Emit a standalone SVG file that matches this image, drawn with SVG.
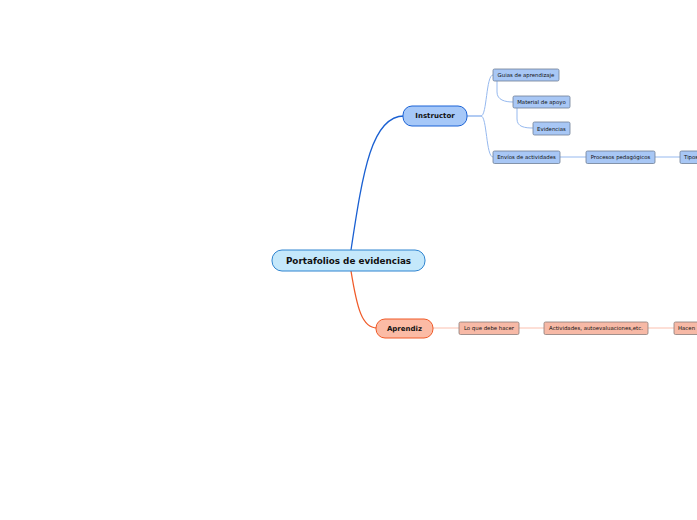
<svg xmlns="http://www.w3.org/2000/svg" width="697" height="520" viewBox="0 0 697 520">
<style>
text{font-family:"DejaVu Sans",Verdana,sans-serif;text-anchor:middle;dominant-baseline:central;fill:#111}
.root rect{fill:#c4e8fb;stroke:#2f84d0;stroke-width:1}
.root text{font-size:8.8px;font-weight:bold}
.main text{font-size:7px;font-weight:bold}
.ins rect{fill:#a6c8f8;stroke:#1a62d6;stroke-width:1}
.apr rect{fill:#fbbba5;stroke:#f05a28;stroke-width:1}
.sb rect{fill:#a8c7f5;stroke:#6e7f96;stroke-width:0.8}
.sr rect{fill:#f7b9a6;stroke:#8c7c7a;stroke-width:0.8}
.sb text,.sr text{font-size:5.4px}
.cb{fill:none;stroke:#96b9ef;stroke-width:1}
.cr{fill:none;stroke:#fbbfae;stroke-width:1}
</style>
<g id="connectors">
<path d="M351,250 C363,170 372,116 404,116" fill="none" stroke="#1a60d2" stroke-width="1.3"/>
<path d="M351,271 C357,308 362,328 377,328" fill="none" stroke="#f05a28" stroke-width="1.3"/>
<path class="cb" d="M467,116 L481,116 C487,116 486,75 493,75"/>
<path class="cb" d="M467,116 L481,116 C487,116 486,157 493,157"/>
<path class="cb" d="M497,81 L497,92 C497,100 505,102 513,102"/>
<path class="cb" d="M517,108 L517,119 C517,127 525,128 533,128"/>
<path class="cb" d="M560,157 L586,157"/>
<path class="cb" d="M655,157 L680,157"/>
<path class="cr" d="M433,328 L459,328"/>
<path class="cr" d="M519,328 L544,328"/>
<path class="cr" d="M648,328 L674,328"/>
</g>
<g id="root" class="root"><rect x="272" y="250" width="153" height="21" rx="10"/><text x="348.5" y="260.5">Portafolios de evidencias</text></g>
<g id="instructor" class="main ins"><rect x="403" y="106" width="64" height="20" rx="9"/><text x="435" y="116">Instructor</text></g>
<g id="aprendiz" class="main apr"><rect x="376" y="319" width="57" height="19" rx="9"/><text x="404.5" y="328.5">Aprendiz</text></g>
<g id="guias" class="sb"><rect x="493" y="69" width="66" height="12" rx="1.5"/><text x="526" y="75">Guias de aprendizaje</text></g>
<g id="material" class="sb"><rect x="513" y="96" width="57" height="12" rx="1.5"/><text x="541.5" y="102">Material de apoyo</text></g>
<g id="evidencias" class="sb"><rect x="533" y="122" width="37" height="13" rx="1.5"/><text x="551.5" y="128.5">Evidencias</text></g>
<g id="envio" class="sb"><rect x="493" y="151" width="67" height="12.5" rx="1.5"/><text x="526.5" y="157.3">Envíos de actividades</text></g>
<g id="procesos" class="sb"><rect x="586" y="151" width="69" height="12.5" rx="1.5"/><text x="620.5" y="157.3">Procesos pedagógicos</text></g>
<g id="tipos" class="sb"><rect x="680" y="151" width="40" height="12.5" rx="1.5"/><text x="684" y="157.3" style="text-anchor:start">Tipos</text></g>
<g id="lo-que" class="sr"><rect x="459" y="322" width="60" height="12.5" rx="1.5"/><text x="489" y="328.3">Lo que debe hacer</text></g>
<g id="actividades" class="sr"><rect x="544" y="322" width="104" height="12.5" rx="1.5"/><text x="596" y="328.3">Actividades, autoevaluaciones,etc.</text></g>
<g id="hacen" class="sr"><rect x="674" y="322" width="40" height="12.5" rx="1.5"/><text x="678" y="328.3" style="text-anchor:start">Hacen</text></g>
</svg>
